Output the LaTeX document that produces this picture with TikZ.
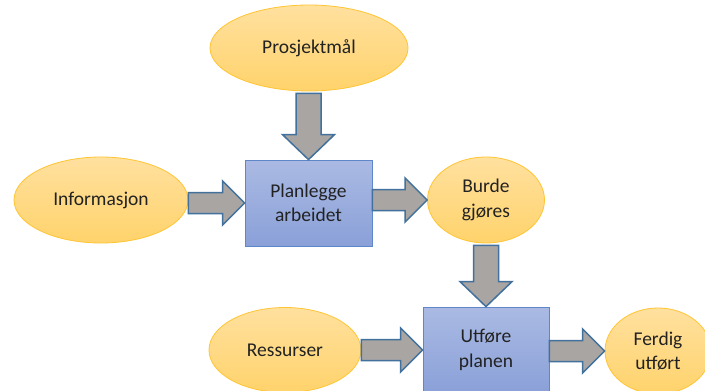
\documentclass[tikz,border=0pt]{standalone}
\usepackage{fontspec}
\setmainfont{Carlito}
\usetikzlibrary{calc,shapes.geometric}

\definecolor{ovalTop}{HTML}{FFE09E}
\definecolor{ovalBot}{HTML}{FFD36C}
\definecolor{ovalLine}{HTML}{FFC533}
\definecolor{boxTop}{HTML}{AABAE3}
\definecolor{boxBot}{HTML}{8AA0D8}
\definecolor{boxLine}{HTML}{5F86C8}
\definecolor{arrowFill}{HTML}{A9A5A3}
\definecolor{arrowLine}{HTML}{41719C}
\definecolor{ink}{HTML}{222222}

\tikzset{
  label text/.style={text=ink, align=center, font=\fontsize{19.5}{24.5}\selectfont},
  oval/.style={ellipse, label text, draw=ovalLine, line width=0.8pt,
    top color=ovalTop, bottom color=ovalBot, inner sep=0pt},
  taskbox/.style={rectangle, label text, draw=boxLine, line width=0.8pt,
    top color=boxTop, bottom color=boxBot, inner sep=0pt},
  blockarrow/.style={draw=arrowLine, fill=arrowFill, line width=1.5pt, line join=miter},
}

% horizontal block arrow from the east side of #1 to the west side of #2
\newcommand\hblock[2]{%
  \draw[blockarrow] let \p1=(#1.east), \p2=(#2.west) in
    (\x1,\y2+10.5pt) -- (\x2-22pt,\y2+10.5pt) -- (\x2-22pt,\y2+22pt) -- (\x2,\y2)
    -- (\x2-22pt,\y2-22pt) -- (\x2-22pt,\y2-10.5pt) -- (\x1,\y2-10.5pt) -- cycle;}
% vertical block arrow from the south side of #1 to the north side of #2
\newcommand\vblock[2]{%
  \draw[blockarrow] let \p1=(#1.south), \p2=(#2.north) in
    (\x2-12.5pt,\y1-2pt) -- (\x2-12.5pt,\y2+25pt) -- (\x2-26pt,\y2+25pt) -- (\x2,\y2)
    -- (\x2+26pt,\y2+25pt) -- (\x2+12.5pt,\y2+25pt) -- (\x2+12.5pt,\y1-2pt) -- cycle;}

\begin{document}
\begin{tikzpicture}[x=1pt,y=-1pt]
  \useasboundingbox (0,0) rectangle (705,391);
  \clip (0,0) rectangle (705,391);
  \fill[white] (0,0) rectangle (705,391);

  % goal, inputs and results
  \node[oval, minimum width=198pt, minimum height=86pt] (goal) at (309,48) {Prosjektmål};
  \node[oval, minimum width=174pt, minimum height=86pt] (info) at (101,200) {Informasjon};
  \node[oval, minimum width=117pt, minimum height=86pt] (todo) at (486,200) {Burde\\gjøres};
  \node[oval, minimum width=152pt, minimum height=85pt] (res) at (285,350) {Ressurser};
  \node[oval, minimum width=106pt, minimum height=86pt] (done) at (658,351) {Ferdig\\utført};

  % process steps
  \node[taskbox, minimum width=127pt, minimum height=86pt] (plan) at (308.5,203) {Planlegge\\arbeidet};
  \node[taskbox, minimum width=126pt, minimum height=86pt] (exec) at (486,350) {Utføre\\planen};

  % flow
  \vblock{goal}{plan}
  \hblock{info}{plan}
  \hblock{plan}{todo}
  \vblock{todo}{exec}
  \hblock{res}{exec}
  \hblock{exec}{done}
\end{tikzpicture}
\end{document}
